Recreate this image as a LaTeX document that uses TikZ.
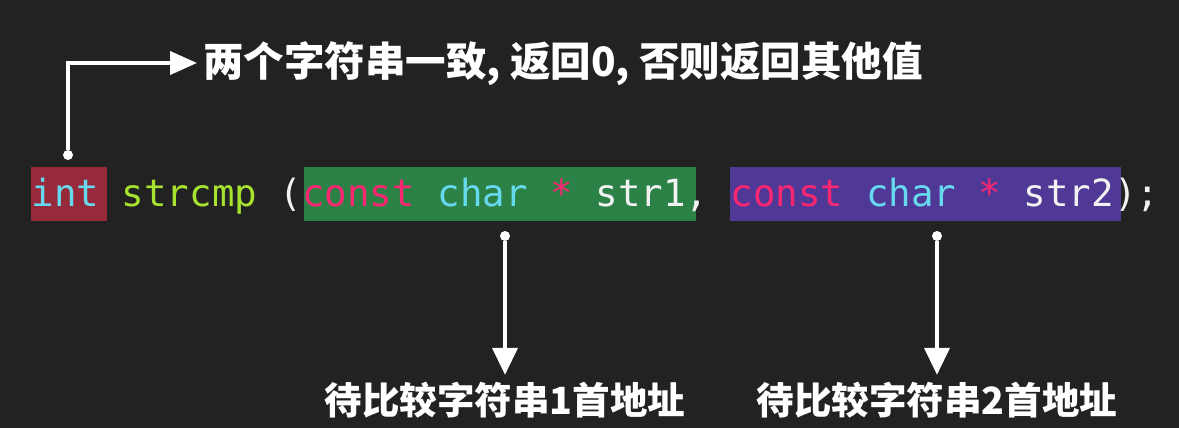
\documentclass[tikz,border=0pt]{standalone}
\usepackage{fontspec}
\usetikzlibrary{arrows.meta}
\newfontfamily\codefont{DejaVu Sans Mono}
\newfontfamily\cjk{Noto Sans CJK SC}
\definecolor{bgdark}{RGB}{34,34,34}
\definecolor{intred}{RGB}{150,42,58}
\definecolor{argone}{RGB}{44,130,70}
\definecolor{argtwo}{RGB}{80,56,150}
\definecolor{kwcyan}{RGB}{102,217,239}
\definecolor{fnlime}{RGB}{166,226,46}
\definecolor{kwpink}{RGB}{249,38,114}
\definecolor{plain}{RGB}{242,242,242}
\tikzset{
  hlbox/.style={inner sep=0,minimum height=54pt},
  knob/.style={circle,fill=white,inner sep=0,minimum size=10pt},
  conn/.style={white,line width=4pt,-{Triangle[length=27pt,width=25pt]}},
  note/.style={text=white,inner xsep=0,inner ysep=8pt,text height=31pt,text depth=4pt,font=\cjk\bfseries\fontsize{37.5pt}{40pt}\selectfont}
}
\begin{document}
\begin{tikzpicture}[x=1pt,y=-1pt]
    \pgfmathsetmacro{\charwidth}{22.55}
    \pgfmathsetmacro{\codex}{31.5}
    \pgfmathsetmacro{\codebase}{206}
    \providecommand{\codefontsize}{\fontsize{37.45pt}{40pt}\selectfont}
    \fill[bgdark] (0,0) rectangle (1179,428);
    % highlighted parts of the prototype
    \node[hlbox,fill=intred,minimum width=76pt] (intbox) at (69,194) {};
    \node[hlbox,fill=argone,minimum width=392pt] (oneargbox) at (500,194) {};
    \node[hlbox,fill=argtwo,minimum width=391pt] (twoargbox) at (925.5,194) {};
    \foreach \col/\tok/\clr in {0/int/kwcyan,4/strcmp/fnlime,11/(/plain,12/const/kwpink,18/char/kwcyan,23/*/kwpink,25/str1/plain,29/{,}/plain,31/const/kwpink,37/char/kwcyan,42/*/kwpink,44/str2/plain,48/)/plain,49/;/plain}
        \node[anchor=base west,inner sep=0,text=\clr,font=\codefont\codefontsize] (tok\col) at ({\codex+\col*\charwidth},\codebase) {\tok};
    % notes
    \node[knob] (intknob) at (68,155) {};
    \node[note,anchor=base west,inner xsep=6pt,text height=32pt,inner ysep=0,font=\cjk\bfseries\fontsize{40.5pt}{44pt}\selectfont] (retnote) at (197,77) {两个字符串一致, 返回0, 否则返回其他值};
    \draw[conn,-{Triangle[length=27pt,width=23pt]}] (intknob) |- (retnote.west);
    \node[knob] (oneknob) at (505,236) {};
    \node[note,anchor=base] (onenote) at (505,414) {待比较字符串1首地址};
    \draw[conn] (oneknob) -- (onenote.north);
    \node[knob] (twoknob) at (937,236) {};
    \node[note,anchor=base] (twonote) at (937,414) {待比较字符串2首地址};
    \draw[conn] (twoknob) -- (twonote.north);
\end{tikzpicture}
\end{document}
